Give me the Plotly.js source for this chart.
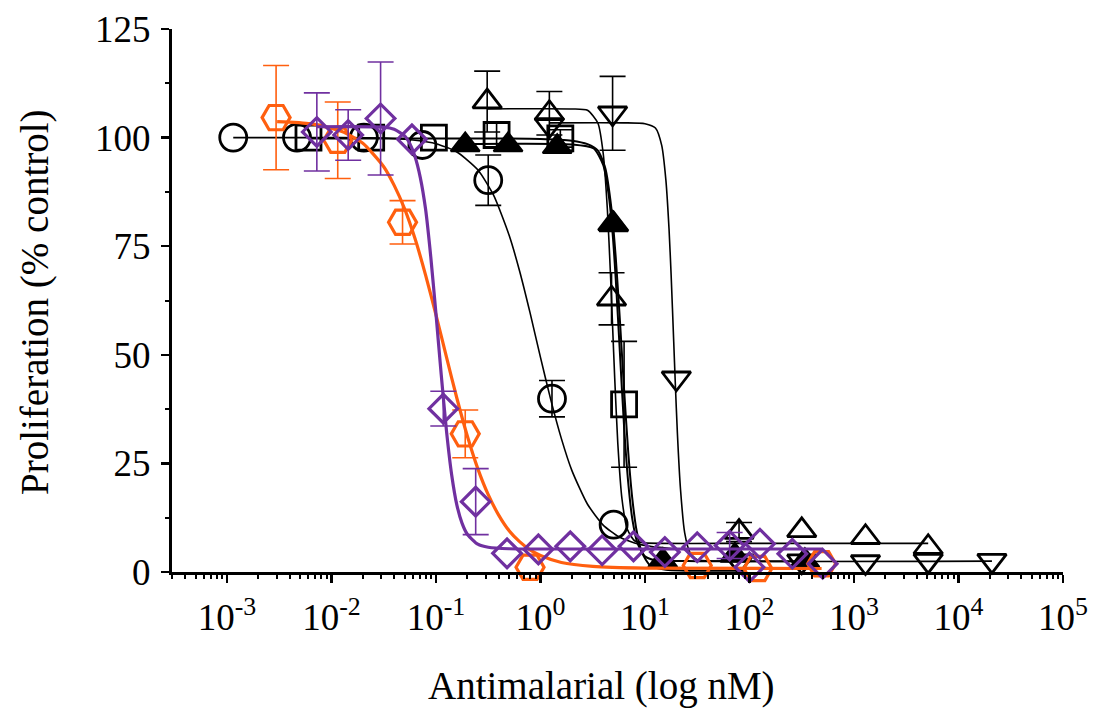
<!DOCTYPE html>
<html>
<head>
<meta charset="utf-8">
<script src="https://cdn.plot.ly/plotly-3.0.1.min.js"></script>
<style>html,body{margin:0;padding:0;background:#fff}</style>
</head>
<body>
<div id="chart" style="width:1094px;height:725px"></div>
<script>
// ---- Data (x in log10 nM, y in % control) ----
// Open circles
const circLogX = [-2.94, -2.33, -1.69, -1.13, -0.50, 0.11, 0.70];
const circY    = [100, 100, 100, 98.3, 90.2, 39.9, 10.9];
const circErr  = [NaN, NaN, NaN, NaN, 5.8, 4.2, NaN];
const circCurveLogX = [-2.94,-2.0,-1.5,-1.2,-1.0,-0.8,-0.6,-0.45,-0.3,-0.2,-0.1,0.0,0.1,0.2,0.3,0.45,0.6,0.75,0.9,1.05,1.3];
const circCurveY    = [100,100,99.9,99.4,98.6,96.7,92.6,86.8,77.5,69.3,59.7,49.4,39.5,30.7,23.4,15.6,10.8,8.1,6.7,5.9,5.3];

// Open squares
const sqLogX = [-2.22, -1.62, -1.02, -0.42, 0.19, 0.80, 1.37, 1.96];
const sqY    = [100, 100, 100, 100.6, 99.8, 38.6, -1.2, -1.2];
const sqErr  = [NaN, NaN, NaN, 3, 2, 14.5, NaN, NaN];
const sqCurveLogX = [-2.22,-1.0,0.0,0.3,0.45,0.55,0.62,0.68,0.72,0.76,0.80,0.84,0.88,0.92,0.97,1.05,1.2,1.96];
const sqCurveY    = [99.8,99.8,99.7,99.3,98.5,97,93,83.5,72.5,58,42,27.5,16.6,9.5,4.5,1.5,0.5,0.3];

// Filled triangles
const ftLogX = [-0.72, -0.31, 0.16, 0.69, 1.17, 1.86, 2.53];
const ftY    = [98.3, 98.3, 97.9, 80.2, 2.6, 3.8, 2.6];
const ftErr  = [NaN, NaN, NaN, NaN, NaN, NaN, NaN];
const ftCurveLogX = [-0.72,0.3,0.51,0.6,0.65,0.69,0.72,0.76,0.80,0.84,0.88,0.93,1.0,1.1,1.5,2.53];
const ftCurveY    = [98.5,98.4,97.5,93.7,87.3,78,67.5,50.5,33.5,20.5,12,6.5,3.6,2.7,2.5,2.5];

// Open up-triangles
const utLogX = [-0.51, 0.085, 0.70, 0.68, 1.90, 2.50, 3.11, 3.71];
const utY    = [108.3, 105.6, 80.0, 62.9, 9.2, 9.6, 8.0, 5.7];
const utErr  = [7, 5, NaN, 6, 2.2, NaN, NaN, NaN];
const utCurveLogX = [-0.51,0.3,0.45,0.55,0.6,0.64,0.67,0.69,0.71,0.74,0.78,0.83,0.9,1.0,2.0,3.71];
const utCurveY    = [106.6,106.6,106.3,103.3,96.4,83.5,68.4,56.6,44.8,29.6,16.8,9.9,7.2,6.7,6.6,6.6];

// Open down-triangles
const dtLogX = [0.085, 0.69, 1.30, 1.90, 2.50, 3.11, 3.71, 4.32];
const dtY    = [102.9, 105.6, 44.6, 2.5, 2.5, 2.3, 2.6, 2.6];
const dtErr  = [NaN, 8.5, NaN, NaN, NaN, NaN, NaN, NaN];
const dtCurveLogX = [0.085,0.8,1.0,1.1,1.16,1.2,1.23,1.25,1.275,1.29,1.31,1.34,1.38,1.43,1.5,1.7,4.32];
const dtCurveY    = [103.4,103.4,103.2,102.2,98.2,90.2,79,68.5,53,43.5,32,19,9,4.5,2.8,2.5,2.5];

// Orange hexagons
const hexLogX = [-2.53, -1.94, -1.32, -0.72, -0.10, 1.50, 2.08, 2.69];
const hexY    = [104.6, 99.4, 80.5, 31.8, 1.1, 1.5, 0.8, 1.9];
const hexErr  = [12, 8.8, 5, 5.5, NaN, NaN, NaN, NaN];
const hexCurveLogX = [-2.52,-2.2,-1.9,-1.7,-1.5,-1.4,-1.3,-1.2,-1.1,-1.0,-0.9,-0.8,-0.7,-0.6,-0.5,-0.4,-0.3,-0.2,-0.1,0.0,0.2,0.5,1.0,2.69];
const hexCurveY    = [103.7,103.2,101.4,98.7,93.3,89.0,83.6,76.7,68.4,59.2,49.5,40.0,31.3,23.8,17.8,13.1,9.5,7.0,5.1,3.8,2.2,1.3,0.9,0.8];

// Purple diamonds
const diaLogX = [-2.14,-1.84,-1.53,-1.23,-0.93,-0.62,-0.32,-0.02,0.285,0.59,0.89,1.19,1.50,1.81,2.10,2.41,2.70,2.00];
const diaY    = [101.3,100.6,104.4,99.6,37.6,16.2,4.3,5.2,5.9,5.0,5.9,4.6,5.7,6.1,6.5,4.2,1.9,1.1];
const diaErr  = [9,5.8,13,NaN,4,7.6,NaN,NaN,NaN,NaN,NaN,NaN,NaN,3,NaN,NaN,NaN,NaN];
const diaCurveLogX = [-2.14,-1.5,-1.4,-1.3,-1.25,-1.2,-1.15,-1.1,-1.05,-1.0,-0.95,-0.9,-0.85,-0.8,-0.75,-0.7,-0.6,-0.5,-0.3,0.5,1.5,2.7];
const diaCurveY    = [102.5,102.4,101.9,100.4,98.6,95.6,90.8,83.6,72.6,59.4,45.5,32.6,22.4,15.4,11.2,8.7,6.4,5.7,5.35,5.3,5.3,5.3];

// Axis ticks and titles
const xTickExp = [-3, -2, -1, 0, 1, 2, 3, 4, 5];
const yTickVals = [0, 25, 50, 75, 100, 125];
const xTitle = 'Antimalarial (log nM)';
const yTitle = 'Proliferation (% control)';

// ---- Build ----
const nM = arr => arr.map(v => Math.pow(10, v));
const BLACK = '#000000';
const ORANGE = '#FF5F0F';
const PURPLE = '#7030A0';

function curve(lx, y, color, width) {
  return {x: nM(lx), y: y, mode: 'lines', type: 'scatter', hoverinfo: 'skip',
          line: {color: color, width: width, shape: 'spline', smoothing: 0.6}};
}
function pts(lx, y, err, symbol, size, color, lw, fill) {
  return {x: nM(lx), y: y, mode: 'markers', type: 'scatter', cliponaxis: false,
          marker: {symbol: symbol, size: size, color: fill || color,
                   line: {color: color, width: lw}},
          error_y: {type: 'data', array: err, visible: true, color: color,
                    thickness: 1.6, width: 13}};
}

const traces = [
  curve(circCurveLogX, circCurveY, BLACK, 1.6),
  curve(sqCurveLogX, sqCurveY, BLACK, 2),
  curve(ftCurveLogX, ftCurveY, BLACK, 2),
  curve(utCurveLogX, utCurveY, BLACK, 1.6),
  curve(dtCurveLogX, dtCurveY, BLACK, 1.6),
  pts(circLogX, circY, circErr, 'circle-open', 27, BLACK, 2.8),
  pts(sqLogX, sqY, sqErr, 'square-open', 25, BLACK, 2.8),
  pts(ftLogX, ftY, ftErr, 'triangle-up', 25, BLACK, 2.2, BLACK),
  pts(utLogX, utY, utErr, 'triangle-up-open', 25, BLACK, 2.8),
  pts(dtLogX, dtY, dtErr, 'triangle-down-open', 25, BLACK, 2.8),
  curve(hexCurveLogX, hexCurveY, ORANGE, 3.2),
  pts(hexLogX, hexY, hexErr, 'hexagon2-open', 28, ORANGE, 3.2),
  curve(diaCurveLogX, diaCurveY, PURPLE, 3.2),
  pts(diaLogX, diaY, diaErr, 'diamond-open', 22, PURPLE, 3.2)
];

const minorX = [];
for (let e = -4; e <= 4; e++) for (let d = 2; d <= 9; d++) minorX.push(d * Math.pow(10, e));

const FONT = '"Liberation Serif", "Times New Roman", Times, serif';
const plotL = 172, plotR = 31, plotT = 29, plotB = 153;
const plotW = 1094 - plotL - plotR, plotH = 725 - plotT - plotB;

const layout = {
  width: 1094, height: 725,
  margin: {l: plotL, r: plotR, t: plotT, b: plotB},
  paper_bgcolor: '#fff', plot_bgcolor: '#fff',
  showlegend: false,
  font: {family: FONT, color: '#000', size: 37},
  xaxis: {
    type: 'log', range: [-3.526, 5],
    tickmode: 'array',
    tickvals: xTickExp.map(e => Math.pow(10, e)),
    ticktext: xTickExp.map(e => '10<sup>' + e + '</sup>'),
    ticks: 'outside', ticklen: 8, tickwidth: 2.5, tickcolor: '#000',
    showline: true, linewidth: 3, linecolor: '#000',
    showgrid: false, zeroline: false,
    tickfont: {family: FONT, size: 37, color: '#000'},
    ticklabelstandoff: 3,
    minor: {tickmode: 'array', tickvals: minorX, ticks: 'outside', ticklen: 4,
            tickwidth: 2, tickcolor: '#000', showgrid: false}
  },
  yaxis: {
    range: [0, 125],
    tickmode: 'array', tickvals: yTickVals,
    ticks: 'outside', ticklen: 8, tickwidth: 2.5, tickcolor: '#000',
    showline: true, linewidth: 3, linecolor: '#000',
    showgrid: false, zeroline: false,
    tickfont: {family: FONT, size: 37, color: '#000'},
    ticklabelstandoff: 3,
    minor: {tick0: 0, dtick: 12.5, ticks: 'outside', ticklen: 4, tickwidth: 2,
            tickcolor: '#000', showgrid: false}
  },
  annotations: [
    {text: xTitle, xref: 'paper', yref: 'paper',
     x: (601 - plotL) / plotW, y: (725 - plotB - 686) / plotH,
     xanchor: 'center', yanchor: 'middle', showarrow: false,
     font: {family: FONT, size: 39, color: '#000'}},
    {text: yTitle, xref: 'paper', yref: 'paper', textangle: -90,
     x: (35 - plotL) / plotW, y: (725 - plotB - 302) / plotH,
     xanchor: 'center', yanchor: 'middle', showarrow: false,
     font: {family: FONT, size: 39, color: '#000'}}
  ]
};

Plotly.newPlot('chart', traces, layout, {displayModeBar: false, staticPlot: true});
</script>
</body>
</html>
